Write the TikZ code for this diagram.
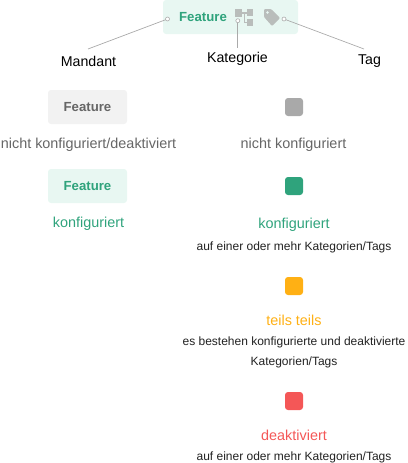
\documentclass[tikz,border=0pt]{standalone}
\usepackage{fontspec}
\setmainfont{Liberation Sans}
\definecolor{featgreen}{HTML}{2FA37C}
\definecolor{featmint}{HTML}{E8F7F2}
\definecolor{featgrey}{HTML}{F2F2F2}
\definecolor{txtgrey}{HTML}{666666}
\definecolor{icongrey}{HTML}{B9BDBB}
\definecolor{sqgrey}{HTML}{A9A9A9}
\definecolor{linegrey}{HTML}{AAAAAA}
\definecolor{partorange}{HTML}{FFB014}
\definecolor{offred}{HTML}{F45757}
\definecolor{txtdark}{HTML}{222222}
\tikzset{x=1pt,y=-1pt,
    every node/.style={inner sep=0pt,outer sep=0pt,align=center},
    box/.style={minimum width=79pt,minimum height=34pt,rounded corners=3pt},
    swatch/.style={minimum size=18pt,rounded corners=3pt},
    lbl/.style={font=\fontsize{14.4}{16}\selectfont},
    btn/.style={font=\fontsize{13.2}{16}\bfseries\selectfont},
    sub/.style={font=\fontsize{12}{14}\selectfont,text=txtdark},
    head/.style={font=\fontsize{14.2}{16}\selectfont,text=black},
    pin/.style={circle,draw=linegrey,fill=white,line width=0.6pt,minimum size=4pt},
    lead/.style={draw=linegrey,line width=0.7pt},
    }

\begin{document}
\begin{tikzpicture}
	\useasboundingbox (0,0) rectangle (407,463);
	% top legend
	\node[fill=featmint,minimum width=135pt,minimum height=34pt,rounded corners=3pt] (top) at (230.5,17) {};
	\node[btn,text=featgreen] (feat) at (203,17.5) {Feature};
	% hierarchy icon
	\fill[icongrey] (235,9) rectangle (241.7,16.5);
	\fill[icongrey] (246.5,9) rectangle (253,15.5);
	\fill[icongrey] (246.5,18.5) rectangle (253,26);
	\fill[icongrey] (241.7,11.5) rectangle (246.5,13.5);
	\fill[icongrey] (243.5,13) rectangle (245.2,23);
	\fill[icongrey] (243.5,21.5) rectangle (246.5,23);
	% tag icon
	\fill[icongrey,rounded corners=1pt] (264,9) -- (271,9) -- (280,18) -- (272,26) -- (264,17) -- cycle;
	\fill[featmint] (267.5,12.5) circle (1.3);
	\node[pin] (pinM) at (167.5,19) {};
	\node[pin] (pinK) at (237.8,20.7) {};
	\node[pin] (pinT) at (284,19) {};
	\node[head] (mand) at (88.5,61) {Mandant};
	\node[head] (kat) at (237.5,59) {Kategorie};
	\node[head] (tag) at (369.5,61) {Tag};
	\coordinate (endM) at (88,49);
	\coordinate (endK) at (237.8,48);
	\coordinate (endT) at (364,49);
	\draw[lead] (pinM)--(endM);
	\draw[lead] (pinK)--(endK);
	\draw[lead] (pinT)--(endT);
	% left column
	\node[box,fill=featgrey] (boxoff) at (87.5,107) {};
	\node[btn,text=txtgrey] (txtboxoff) at (87.5,107.5) {Feature};
	\node[lbl,text=txtgrey] (lbloff) at (88.5,145) {nicht konfiguriert/deaktiviert};
	\node[box,fill=featmint] (boxon) at (87.5,186) {};
	\node[btn,text=featgreen] (txtboxon) at (87.5,186.5) {Feature};
	\node[lbl,text=featgreen] (lblon) at (88.5,224) {konfiguriert};
	% right column
	\node[swatch,fill=sqgrey] (sqoff) at (294,107) {};
	\node[lbl,text=txtgrey] (txtoff) at (293.5,145) {nicht konfiguriert};
	\node[swatch,fill=featgreen] (sqon) at (294,186) {};
	\node[lbl,text=featgreen] (txton) at (294,225) {konfiguriert};
	\node[sub] (subon) at (294,247) {auf einer oder mehr Kategorien/Tags};
	\node[swatch,fill=partorange] (sqpart) at (294,286) {};
	\node[lbl,text=partorange] (txtpart) at (294,320) {teils teils};
	\node[sub] (subpart) at (294,342) {es bestehen konfigurierte und deaktivierte};
	\node[sub] (subparttwo) at (294,362) {Kategorien/Tags};
	\node[swatch,fill=offred] (sqred) at (294,401) {};
	\node[lbl,text=offred] (txtred) at (294,435) {deaktiviert};
	\node[sub] (subred) at (294,457) {auf einer oder mehr Kategorien/Tags};
\end{tikzpicture}
\end{document}
